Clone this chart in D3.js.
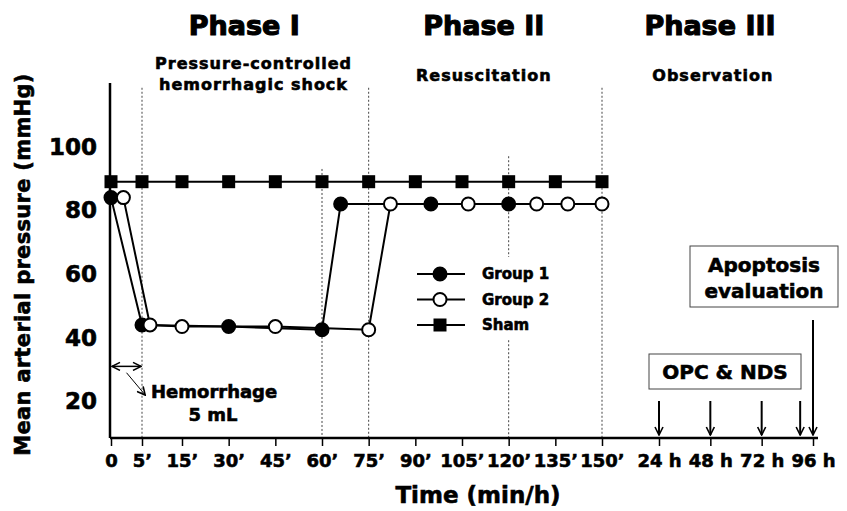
<!DOCTYPE html>
<html>
<head>
<meta charset="utf-8">
<script src="https://cdn.jsdelivr.net/npm/d3@7"></script>
<style>
  body { margin: 0; background: #fff; }
  svg { display: block; font-family: "DejaVu Sans", sans-serif; font-weight: bold; }
  text { stroke: #000; stroke-width: 0.6px; }
  text.heavy { stroke-width: 1.1px; }
</style>
</head>
<body>
<svg id="chart" width="847" height="511"></svg>
<script>
// all times are in minutes, the hour ticks too (24 h = 1440)
const tickTimes = [0, 5, 15, 30, 45, 60, 75, 90, 105, 120, 135, 150, 1440, 2880, 4320, 5760]
const tickLabels = ["0", "5’", "15’", "30’", "45’", "60’", "75’", "90’", "105’", "120’", "135’", "150’", "24 h", "48 h", "72 h", "96 h"]
const yTicks = [20, 40, 60, 80, 100]

const shamTimes = [0, 5, 15, 30, 45, 60, 75, 90, 105, 120, 135, 150]
const shamValues = [89, 89, 89, 89, 89, 89, 89, 89, 89, 89, 89, 89]
const group1Times = [0, 5, 30, 60, 66, 95, 120]
const group1Values = [84, 44, 43.5, 42.5, 82, 82, 82]
const group2Times = [2, 7, 15, 45, 75, 82, 107, 129, 139, 150]
const group2Values = [84, 44, 43.5, 43.5, 42.5, 82, 82, 82, 82, 82]

const phaseNames = ["Phase I", "Phase II", "Phase III"]
const phaseCenters = [35, 112, 2870]
const phaseSubs = [["Pressure-controlled", "hemorrhagic shock"], ["Resuscitation"], ["Observation"]]
const subCenters = [38, 112, 2950]
const dividerTimes = [5, 60, 75, 120, 150]
const dividerTops = [118.5, 93, 118.5, 97, 118.5]
const opcTimes = [1440, 2880, 4320, 5400]
const apoptosisTime = 5760

const width = 847, height = 511
const margin = {top: 83, right: 29, bottom: 73, left: 110}
const svg = d3.select("#chart")

// piecewise time axis: short first step, minutes, then compressed hours
const x = d3.scaleLinear()
    .domain([0, 5, 15, 150, 1440, 5760])
    .range([111, 142, 182, 602, 659, 813])
const y = d3.scaleLinear()
    .domain([8.5, 120])
    .range([height - margin.bottom, margin.top])
const y0 = height - margin.bottom

const defs = svg.append("defs")
defs.append("marker").attr("id", "head")
    .attr("viewBox", "0 0 10 10").attr("refX", 9).attr("refY", 5)
    .attr("markerWidth", 10).attr("markerHeight", 10)
    .attr("markerUnits", "userSpaceOnUse")
    .attr("orient", "auto-start-reverse")
  .append("path").attr("d", "M1,1 L9,5 L1,9")
    .attr("fill", "none").attr("stroke", "#000").attr("stroke-width", 1.6)

// dotted phase dividers
svg.append("g").selectAll("line")
    .data(dividerTimes)
    .join("line")
    .attr("x1", d => x(d)).attr("x2", d => x(d))
    .attr("y1", (d, i) => y(dividerTops[i])).attr("y2", y0)
    .attr("stroke", "#444").attr("stroke-width", 1)
    .attr("stroke-dasharray", "2,2")

// axes
svg.append("line")
    .attr("x1", margin.left).attr("x2", width - margin.right)
    .attr("y1", y0).attr("y2", y0)
    .attr("stroke", "#000").attr("stroke-width", 2.5)
svg.append("line")
    .attr("x1", margin.left).attr("x2", margin.left)
    .attr("y1", margin.top).attr("y2", y0)
    .attr("stroke", "#000").attr("stroke-width", 2.5)

const xAxis = svg.append("g")
    .attr("transform", `translate(0,${y0})`)
    .call(d3.axisBottom(x).tickValues(tickTimes)
        .tickFormat((d, i) => tickLabels[i]).tickSize(8).tickPadding(8))
xAxis.select(".domain").remove()
xAxis.selectAll(".tick line").attr("stroke-width", 1.5)
xAxis.selectAll(".tick text")
    .attr("font-size", 18).attr("font-family", "DejaVu Sans")
    .attr("font-weight", "bold").attr("fill", "#000")

const yAxis = svg.append("g")
    .attr("transform", `translate(${margin.left},0)`)
    .call(d3.axisLeft(y).tickValues(yTicks).tickSize(0).tickPadding(13))
yAxis.select(".domain").remove()
yAxis.selectAll(".tick text")
    .attr("font-size", 23).attr("font-family", "DejaVu Sans")
    .attr("font-weight", "bold").attr("fill", "#000")

svg.append("text")
    .attr("transform", `translate(30,${(margin.top + y0) / 2 + 4}) rotate(-90)`)
    .attr("text-anchor", "middle").attr("font-size", 21)
    .attr("letter-spacing", 0.3)
    .text("Mean arterial pressure (mmHg)")
svg.append("text")
    .attr("x", 478).attr("y", 503)
    .attr("text-anchor", "middle").attr("font-size", 23)
    .text("Time (min/h)")

// phase titles
svg.append("g").selectAll("text")
    .data(phaseNames)
    .join("text")
    .attr("class", "heavy")
    .attr("x", (d, i) => x(phaseCenters[i])).attr("y", 35)
    .attr("text-anchor", "middle").attr("font-size", 27)
    .text(d => d)
phaseSubs.forEach((lines, i) => {
    const t = svg.append("text")
        .attr("text-anchor", "middle").attr("font-size", 16)
        .attr("letter-spacing", 1)
    t.selectAll("tspan")
        .data(lines)
        .join("tspan")
        .attr("x", x(subCenters[i]))
        .attr("y", (d, j) => (lines.length > 1 ? 69 : 81) + j * 21)
        .text(d => d)
})

// series
const line = d3.line().x(d => x(d[0])).y(d => y(d[1]))
const zip = (ts, vs) => ts.map((t, i) => [t, vs[i]])
const sham = zip(shamTimes, shamValues)
const g1 = zip(group1Times, group1Values)
const g2 = zip(group2Times, group2Values)

for (const pts of [sham, g1, g2]) {
    svg.append("path").datum(pts).attr("d", line)
        .attr("fill", "none").attr("stroke", "#000").attr("stroke-width", 2)
}
svg.append("g").selectAll("rect")
    .data(sham).join("rect")
    .attr("x", d => x(d[0]) - 6.5).attr("y", d => y(d[1]) - 6.5)
    .attr("width", 13).attr("height", 13).attr("fill", "#000")
svg.append("g").selectAll("circle")
    .data(g1).join("circle")
    .attr("cx", d => x(d[0])).attr("cy", d => y(d[1])).attr("r", 6.5)
    .attr("fill", "#000").attr("stroke", "#000").attr("stroke-width", 2)
svg.append("g").selectAll("circle")
    .data(g2).join("circle")
    .attr("cx", d => x(d[0])).attr("cy", d => y(d[1])).attr("r", 6.5)
    .attr("fill", "#fff").attr("stroke", "#000").attr("stroke-width", 2)

// legend
const legendItems = ["Group 1", "Group 2", "Sham"]
const legend = svg.append("g").attr("transform", "translate(417,274)")
legend.append("rect").attr("x", -6).attr("y", -17).attr("width", 130).attr("height", 82).attr("fill", "#fff")
const li = legend.selectAll("g").data(legendItems).join("g")
    .attr("transform", (d, i) => `translate(0,${i * 25.5})`)
li.append("line").attr("x1", 0).attr("x2", 48)
    .attr("stroke", "#000").attr("stroke-width", 2)
li.each(function(d, i) {
    const g = d3.select(this)
    if (i === 2) {
        g.append("rect").attr("x", 16.5).attr("y", -6.5).attr("width", 13).attr("height", 13).attr("fill", "#000")
    } else {
        g.append("circle").attr("cx", 23).attr("r", 6.5)
            .attr("fill", i === 0 ? "#000" : "#fff").attr("stroke", "#000").attr("stroke-width", 2)
    }
})
li.append("text").attr("x", 65).attr("dy", "0.36em").attr("font-size", 15).text(d => d)

// hemorrhage annotation
svg.append("line")
    .attr("x1", x(0) + 1).attr("x2", x(5) - 1).attr("y1", y(31)).attr("y2", y(31))
    .attr("stroke", "#000").attr("stroke-width", 1.5)
    .attr("marker-start", "url(#head)").attr("marker-end", "url(#head)")
svg.append("line")
    .attr("x1", x(2.5)).attr("y1", y(29)).attr("x2", x(5.8)).attr("y2", y(22))
    .attr("stroke", "#000").attr("stroke-width", 1)
    .attr("marker-end", "url(#head)")
svg.append("text").attr("x", 151).attr("y", 398).attr("font-size", 18).text("Hemorrhage")
svg.append("text").attr("x", 213).attr("y", 421).attr("font-size", 18)
    .attr("text-anchor", "middle").text("5 mL")

// observation arrows
svg.append("g").selectAll("line")
    .data(opcTimes).join("line")
    .attr("x1", d => x(d)).attr("x2", d => x(d))
    .attr("y1", y0 - 37).attr("y2", y0 - 3)
    .attr("stroke", "#000").attr("stroke-width", 2)
    .attr("marker-end", "url(#head)")
svg.append("line")
    .attr("x1", x(apoptosisTime)).attr("x2", x(apoptosisTime))
    .attr("y1", 320).attr("y2", y0 - 3)
    .attr("stroke", "#000").attr("stroke-width", 2)
    .attr("marker-end", "url(#head)")

svg.append("rect").attr("x", 649).attr("y", 354).attr("width", 152).attr("height", 35)
    .attr("fill", "#fff").attr("stroke", "#444").attr("stroke-width", 1)
svg.append("text").attr("x", 725).attr("y", 379).attr("text-anchor", "middle")
    .attr("font-size", 20).text("OPC & NDS")

svg.append("rect").attr("x", 690).attr("y", 246).attr("width", 148).attr("height", 61)
    .attr("fill", "#fff").attr("stroke", "#444").attr("stroke-width", 1)
const ap = svg.append("text").attr("text-anchor", "middle").attr("font-size", 20)
ap.append("tspan").attr("x", 764).attr("y", 272).text("Apoptosis")
ap.append("tspan").attr("x", 764).attr("y", 298).text("evaluation")
</script>
</body>
</html>
